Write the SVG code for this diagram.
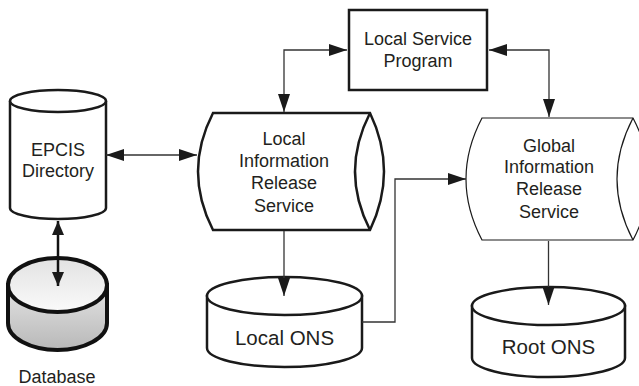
<svg xmlns="http://www.w3.org/2000/svg" width="639" height="386" viewBox="0 0 639 386">
<defs>
<style>
.shape{fill:#fff;stroke:#1a1a1a;stroke-width:2.5}
.thin{fill:#fff;stroke:#1a1a1a;stroke-width:1.2}
.conn{fill:none;stroke:#333;stroke-width:1.3}
.lbl{font-family:"Liberation Sans",Arial,Helvetica,sans-serif;font-size:18px;fill:#231f20;text-anchor:middle}
.big{font-size:20.5px}
</style>
<marker id="ah" viewBox="0 0 18 12" refX="18" refY="6" markerWidth="18" markerHeight="12" markerUnits="userSpaceOnUse" orient="auto-start-reverse">
<path d="M0,0 L18,6 L0,12 z" fill="#1a1a1a"/>
</marker>
<marker id="ahs" viewBox="0 0 14 12" refX="14" refY="6" markerWidth="14" markerHeight="12" markerUnits="userSpaceOnUse" orient="auto-start-reverse">
<path d="M0,0 L14,6 L0,12 z" fill="#1a1a1a"/>
</marker>
<linearGradient id="dbSide" x1="0" y1="0" x2="0" y2="1">
<stop offset="0" stop-color="#e4e4e4"/>
<stop offset="1" stop-color="#b8b8b8"/>
</linearGradient>
<linearGradient id="dbTop" x1="0" y1="0" x2="0" y2="1">
<stop offset="0" stop-color="#e2e2e2"/>
<stop offset="1" stop-color="#fafafa"/>
</linearGradient>
</defs>
<rect width="639" height="386" fill="#fff"/>

<g id="epcis">
<path class="shape" d="M10,101 A48,11 0 0,1 106,101 L106,208 A48,11 0 0,1 10,208 Z"/>
<path class="shape" fill="none" d="M10,101 A48,11 0 0,0 106,101"/>
<text class="lbl" x="58" y="156">EPCIS</text>
<text class="lbl" x="58" y="177">Directory</text>
</g>

<g id="database">
<path d="M8,285 L8,323 A49.5,27 0 0,0 107,323 L107,285 Z" fill="url(#dbSide)" stroke="#111" stroke-width="4"/>
<ellipse cx="57.5" cy="285" rx="49.5" ry="27" fill="url(#dbTop)" stroke="#111" stroke-width="4"/>
<path d="M8,285 A49.5,27 0 0,0 107,285" fill="none" stroke="#111" stroke-width="1.5"/>
<text class="lbl" x="57" y="383">Database</text>
</g>

<g id="local-service-program">
<rect class="shape" x="349" y="10" width="138" height="80"/>
<text class="lbl" x="418" y="45">Local Service</text>
<text class="lbl" x="418" y="67">Program</text>
</g>

<g id="local-irs">
<path class="shape" d="M213,113 L370,113 Q398,171.5 370,230 L213,230 Q183,171.5 213,113 Z"/>
<path class="shape" fill="none" d="M370,113 Q340,171.5 370,230"/>
<text class="lbl" x="284" y="145">Local</text>
<text class="lbl" x="284" y="167">Information</text>
<text class="lbl" x="284" y="189">Release</text>
<text class="lbl" x="284" y="212">Service</text>
</g>

<g id="global-irs">
<path class="thin" d="M482,118 L633,118 Q665,179 633,240 L482,240 Q450,179 482,118 Z"/>
<path class="thin" fill="none" d="M633,118 Q601,179 633,240"/>
<text class="lbl" x="549" y="152">Global</text>
<text class="lbl" x="549" y="173">Information</text>
<text class="lbl" x="549" y="195">Release</text>
<text class="lbl" x="549" y="218">Service</text>
</g>

<g id="local-ons">
<path class="shape" d="M207,296 L207,348 A77.5,19 0 0,0 362,348 L362,296 Z"/>
<ellipse class="shape" cx="284.5" cy="296" rx="77.5" ry="19"/>
<text class="lbl big" x="284.5" y="345">Local ONS</text>
</g>

<g id="root-ons">
<path class="shape" d="M472,306 L472,358 A76.5,19 0 0,0 625,358 L625,306 Z"/>
<ellipse class="shape" cx="548.5" cy="306" rx="76.5" ry="19"/>
<text class="lbl big" x="548.5" y="354">Root ONS</text>
</g>

<g id="connectors">
<path class="conn" d="M106,155 L197,155" marker-start="url(#ah)" marker-end="url(#ah)"/>
<path d="M58,221 L58,286" fill="none" stroke="#111" stroke-width="2.5" marker-start="url(#ahs)" marker-end="url(#ahs)"/>
<path class="conn" d="M347,50 L284,50 L284,112" marker-start="url(#ah)" marker-end="url(#ah)"/>
<path class="conn" d="M489,50 L549,50 L549,117" marker-start="url(#ah)" marker-end="url(#ah)"/>
<path class="conn" d="M284,231 L284,296" marker-end="url(#ah)"/>
<path class="conn" d="M362,322 L395,322 L395,179 L466,179" marker-end="url(#ah)"/>
<path class="conn" d="M548.5,241 L548.5,305" marker-end="url(#ah)"/>
</g>
</svg>
